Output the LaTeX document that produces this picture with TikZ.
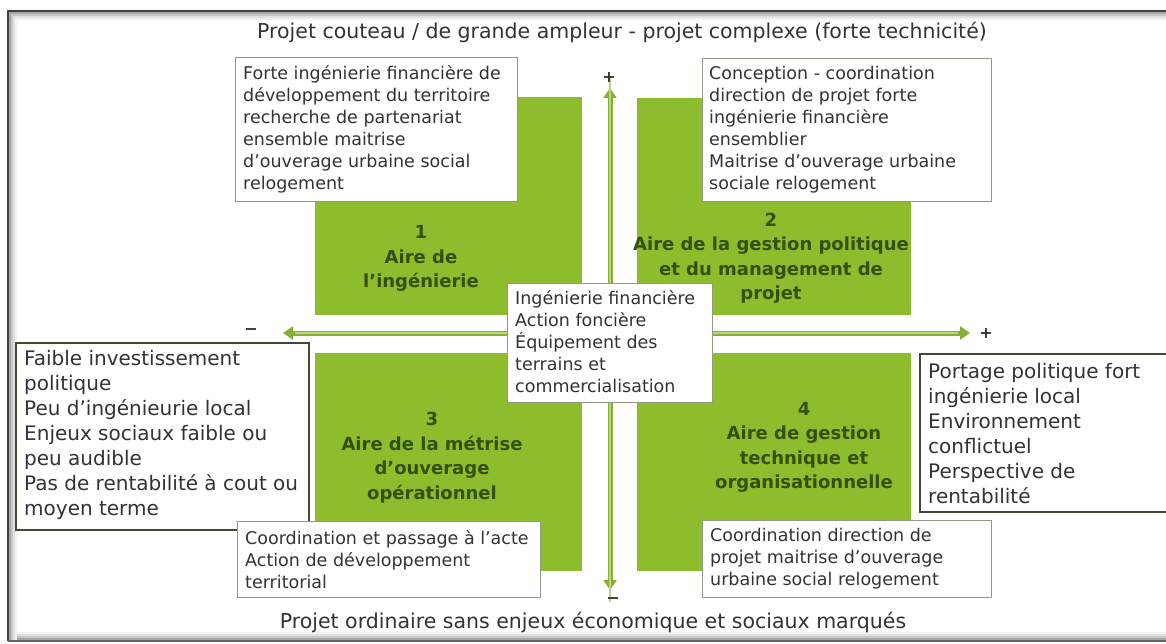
\documentclass[tikz,border=0pt]{standalone}
\usepackage{fontspec}
\setmainfont{DejaVu Sans}
\usetikzlibrary{arrows.meta}
\definecolor{agreen}{HTML}{8DBC2C}
\definecolor{tgreen}{HTML}{34500C}
\definecolor{bgray}{HTML}{8E9C86}
\definecolor{dkbord}{HTML}{3E4A36}
\definecolor{txt}{HTML}{333333}
\definecolor{arrg}{HTML}{86B035}
\definecolor{arrl}{HTML}{B9D67A}
\begin{document}
\begin{tikzpicture}[x=1pt,y=-1pt,
  area/.style={fill=agreen, draw=none, inner sep=0pt, anchor=north west},
  areatext/.style={text=tgreen, align=center, inner sep=0pt,
    font=\fontsize{18}{24.5}\selectfont\bfseries},
  infobox/.style={fill=white, draw=bgray, line width=1.3pt, anchor=north west, inner sep=0pt},
  bigbox/.style={infobox, draw=dkbord, line width=1.8pt},
  infotext/.style={anchor=west, align=left, inner sep=0pt, text=txt,
    font=\fontsize{17.5}{22}\selectfont},
  bigtext/.style={infotext, font=\fontsize{20}{25}\selectfont},
  axis/.style={draw=arrg, line width=5pt,
    {Triangle[length=10pt,width=13pt]}-{Triangle[length=10pt,width=13pt]}},
  axisin/.style={draw=arrl, line width=1.6pt},
  sign/.style={text=txt, inner sep=0pt, font=\fontsize{16}{16}\selectfont\bfseries},
  heading/.style={text=txt, inner sep=0pt, font=\fontsize{20.5}{24}\selectfont}
]
\useasboundingbox (0,0) rectangle (1166,644);
\fill[white] (0,0) rectangle (1166,644);
% frame with inner shadow
\foreach \d/\o in {2/35,4/22,6/12,8/5}{
  \draw[black!\o, line width=2pt] (8+\d,641) -- (8+\d,11+\d) -- (1175,11+\d);
  \draw[black!\o, line width=2pt] (8+\d,641-\d) -- (1175,641-\d);
}
\draw[black!75, line width=2pt] (8,641) -- (8,11) -- (1175,11);
\draw[black!60, line width=1.5pt] (8,641) -- (1175,641);

% titles
\node[heading] (top) at (622,32) {Projet couteau / de grande ampleur - projet complexe (forte technicité)};
\node[heading] (bottom) at (593,622) {Projet ordinaire sans enjeux économique et sociaux marqués};

% axes
\coordinate (vtop) at (610,88);
\coordinate (vbot) at (610,590);
\coordinate (hleft) at (283,333);
\coordinate (hright) at (970,333);
\draw[axis] (vbot) -- (vtop);
\draw[axisin] ([yshift=-12pt]vbot) -- ([yshift=12pt]vtop);
\draw[axis] (hleft) -- (hright);
\draw[axisin] ([xshift=12pt]hleft) -- ([xshift=-12pt]hright);
\node[sign] (vplus) at (609,77) {+};
\node[sign] (vminus) at (613,601) {−};
\node[sign] (hminus) at (251,332) {−};
\node[sign] (hplus) at (986,333) {+};

% green areas
\node[area, minimum width=267pt, minimum height=218pt] (a1) at (315,97) {};
\node[area, minimum width=274pt, minimum height=217pt] (a2) at (637,98) {};
\node[area, minimum width=267pt, minimum height=218pt] (a3) at (315,353) {};
\node[area, minimum width=274pt, minimum height=218pt] (a4) at (637,353) {};
\node[areatext] (t1) at (421,258.5) {1\\Aire de\\l’ingénierie};
\node[areatext] (t2) at (771,258.5) {2\\Aire de la gestion politique\\et du management de\\projet};
\node[areatext] (t3) at (432,457.5) {3\\Aire de la métrise\\d’ouverage\\opérationnel};
\node[areatext] (t4) at (804,447.5) {4\\Aire de gestion\\technique et\\organisationnelle};

% info boxes
\node[infobox, minimum width=282pt, minimum height=144pt] (tl) at (235,57) {};
\node[infotext] (tlt) at ([xshift=8pt]tl.west)
  {Forte ingénierie financière de\\développement du territoire\\recherche de partenariat\\ensemble maitrise\\d’ouverage urbaine social\\relogement};
\node[infobox, minimum width=289pt, minimum height=143pt] (tr) at (702,58) {};
\node[infotext] (trt) at ([xshift=7pt]tr.west)
  {Conception - coordination\\direction de projet forte\\ingénierie financière\\ensemblier\\Maitrise d’ouverage urbaine\\sociale relogement};
\node[infobox, minimum width=205pt, minimum height=119pt] (ctr) at (507,283) {};
\node[infotext] (ctrt) at ([xshift=8pt,yshift=2pt]ctr.west)
  {Ingénierie financière\\Action foncière\\Équipement des\\terrains et\\commercialisation};
\node[bigbox, minimum width=293pt, minimum height=187pt] (lft) at (15,342) {};
\node[bigtext] (lftt) at ([xshift=9pt,yshift=1pt]lft.west)
  {Faible investissement\\politique\\Peu d’ingénieurie local\\Enjeux sociaux faible ou\\peu audible\\Pas de rentabilité à cout ou\\moyen terme};
\node[bigbox, minimum width=260pt, minimum height=158pt] (rgt) at (919,353) {};
\node[bigtext] (rgtt) at ([xshift=9pt,yshift=-1pt]rgt.west)
  {Portage politique fort\\ingénierie local\\Environnement\\conflictuel\\Perspective de\\rentabilité};
\node[infobox, minimum width=303pt, minimum height=76pt] (bl) at (237,521) {};
\node[infotext] (blt) at ([xshift=8pt]bl.west)
  {Coordination et passage à l’acte\\Action de développement\\territorial};
\node[infobox, minimum width=289pt, minimum height=77pt] (br) at (702,520) {};
\node[infotext] (brt) at ([xshift=8pt]br.west)
  {Coordination direction de\\projet maitrise d’ouverage\\urbaine social relogement};
\end{tikzpicture}
\end{document}
